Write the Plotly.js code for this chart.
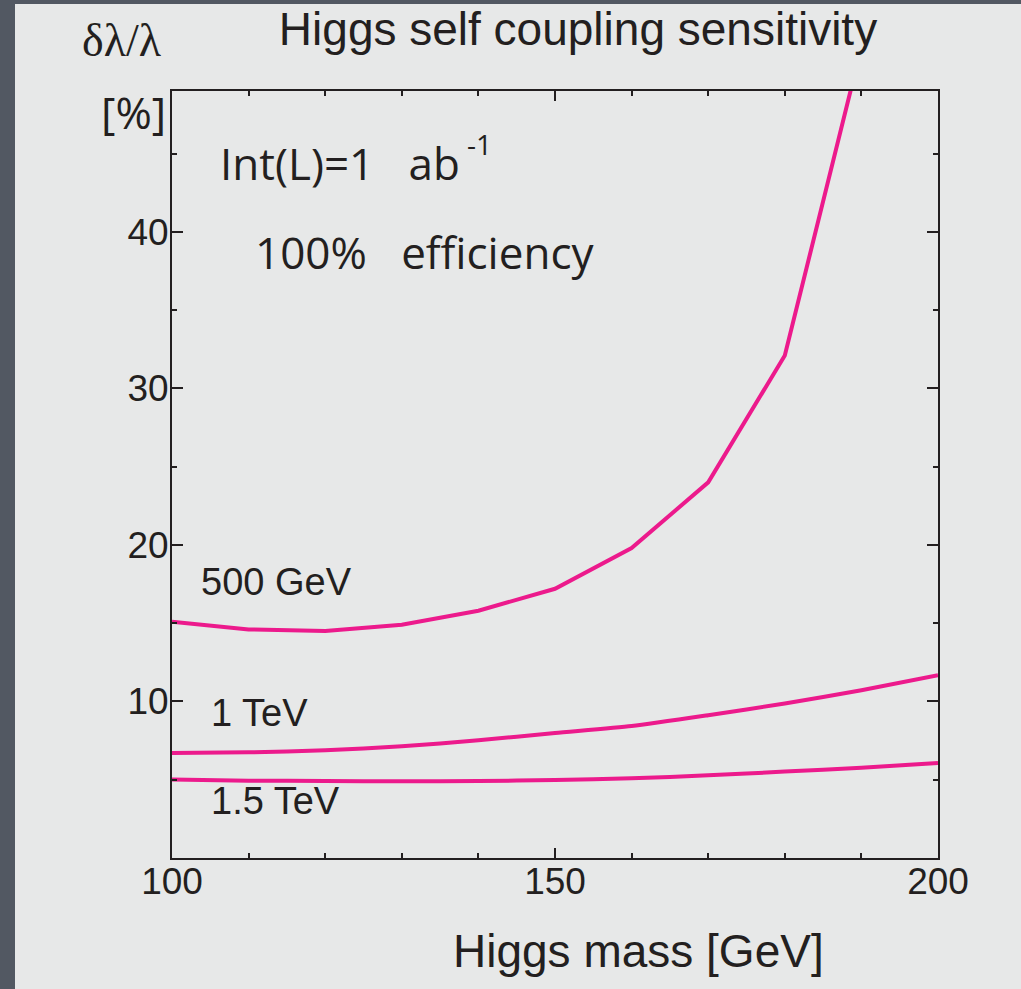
<!DOCTYPE html>
<html>
<head>
<meta charset="utf-8">
<script src="https://cdn.plot.ly/plotly-3.0.1.min.js"></script>
<style>
  html, body { margin: 0; padding: 0; background: #525862; width: 1021px; height: 989px; overflow: hidden; }
  #chart { position: absolute; left: 15px; top: 4px; width: 1006px; height: 985px; }
</style>
</head>
<body>
<div id="chart"></div>
<script>
// Higgs mass [GeV]
const masses = [100, 110, 120, 130, 140, 150, 160, 170, 180, 190, 200];
const masses500 = [100, 110, 120, 130, 140, 150, 160, 170, 180, 190];
// delta lambda / lambda [%]
const sens500GeV = [15.1, 14.6, 14.5, 14.9, 15.8, 17.2, 19.8, 24.0, 32.1, 51.8];
const sens1TeV = [6.7, 6.75, 6.88, 7.14, 7.52, 7.99, 8.43, 9.12, 9.87, 10.72, 11.67];
const sens15TeV = [5.01, 4.94, 4.92, 4.90, 4.92, 4.98, 5.09, 5.28, 5.52, 5.77, 6.07];
const seriesNames = ["500 GeV", "1 TeV", "1.5 TeV"];
const xTickVals = [100, 150, 200];
const yTickVals = [10, 20, 30, 40];

const lineColor = '#ec1a8c';
const ink = '#231f20';
const sans = 'Liberation Sans, Arial, Helvetica, sans-serif';
const myriad = 'Open Sans, Noto Sans, sans-serif';

const traces = [
  { x: masses500, y: sens500GeV, name: seriesNames[0], mode: 'lines',
    line: { color: lineColor, width: 4 } },
  { x: masses, y: sens1TeV, name: seriesNames[1], mode: 'lines',
    line: { color: lineColor, width: 4, shape: 'spline', smoothing: 0.6 } },
  { x: masses, y: sens15TeV, name: seriesNames[2], mode: 'lines',
    line: { color: lineColor, width: 4, shape: 'spline', smoothing: 0.6 } }
];

const axisCommon = {
  showline: true, linecolor: ink, linewidth: 2, mirror: 'ticks',
  showgrid: false, zeroline: false, ticks: 'inside', tickwidth: 2,
  tickcolor: ink, tickfont: { family: sans, size: 37, color: ink }
};

const layout = {
  width: 1006, height: 985,
  margin: { l: 157, r: 83, t: 87, b: 131 },
  paper_bgcolor: '#e7e8e8', plot_bgcolor: '#e7e8e8',
  showlegend: false,
  title: { text: 'Higgs self coupling sensitivity',
    font: { family: sans, size: 46, color: ink },
    x: 563 / 1006, xanchor: 'center', y: 1 - 25 / 985, yanchor: 'middle' },
  xaxis: Object.assign({}, axisCommon, {
    range: [100, 200], tickmode: 'array', tickvals: xTickVals, ticklen: 10,
    ticklabelstandoff: -10,
    minor: { tickmode: 'linear', tick0: 100, dtick: 10, ticks: 'inside', ticklen: 5, tickwidth: 2, tickcolor: ink }
  }),
  yaxis: Object.assign({}, axisCommon, {
    range: [0, 49], tickmode: 'array', tickvals: yTickVals, ticklen: 11,
    ticklabelstandoff: -6,
    minor: { tickmode: 'linear', tick0: 0, dtick: 5, ticks: 'inside', ticklen: 5, tickwidth: 2, tickcolor: ink }
  }),
  annotations: [
    { text: seriesNames[0], x: 103.5, y: 17.65, xref: 'x', yref: 'y', xanchor: 'left', yanchor: 'middle',
      showarrow: false, font: { family: sans, size: 38, color: ink } },
    { text: seriesNames[1], x: 104.8, y: 9.25, xref: 'x', yref: 'y', xanchor: 'left', yanchor: 'middle',
      showarrow: false, font: { family: sans, size: 38, color: ink } },
    { text: seriesNames[2], x: 104.8, y: 3.62, xref: 'x', yref: 'y', xanchor: 'left', yanchor: 'middle',
      showarrow: false, font: { family: sans, size: 38, color: ink } },
    { text: 'Int(L)=1   ab', x: 106.0, y: 44.4, xref: 'x', yref: 'y', xanchor: 'left', yanchor: 'middle',
      showarrow: false, font: { family: myriad, size: 44, color: ink } },
    { text: '-1', x: 138.3, y: 45.6, xref: 'x', yref: 'y', xanchor: 'left', yanchor: 'middle',
      showarrow: false, font: { family: myriad, size: 28, color: ink } },
    { text: '100%   efficiency', x: 110.6, y: 38.7, xref: 'x', yref: 'y', xanchor: 'left', yanchor: 'middle',
      showarrow: false, font: { family: myriad, size: 44, color: ink } },
    { text: 'δλ/λ', x: -0.0653, y: 1.0652, xref: 'paper', yref: 'paper', xanchor: 'center', yanchor: 'middle',
      showarrow: false, font: { family: 'Liberation Serif, Times New Roman, serif', size: 46, color: ink } },
    { text: '[%]', x: -0.0509, y: 0.9722, xref: 'paper', yref: 'paper', xanchor: 'center', yanchor: 'middle',
      showarrow: false, font: { family: myriad, size: 44, color: ink } },
    { text: 'Higgs mass [GeV]', x: 0.6084, y: -0.1216, xref: 'paper', yref: 'paper', xanchor: 'center', yanchor: 'middle',
      showarrow: false, font: { family: sans, size: 46, color: ink } }
  ]
};

Plotly.newPlot('chart', traces, layout, { displayModeBar: false, staticPlot: true });
</script>
</body>
</html>
